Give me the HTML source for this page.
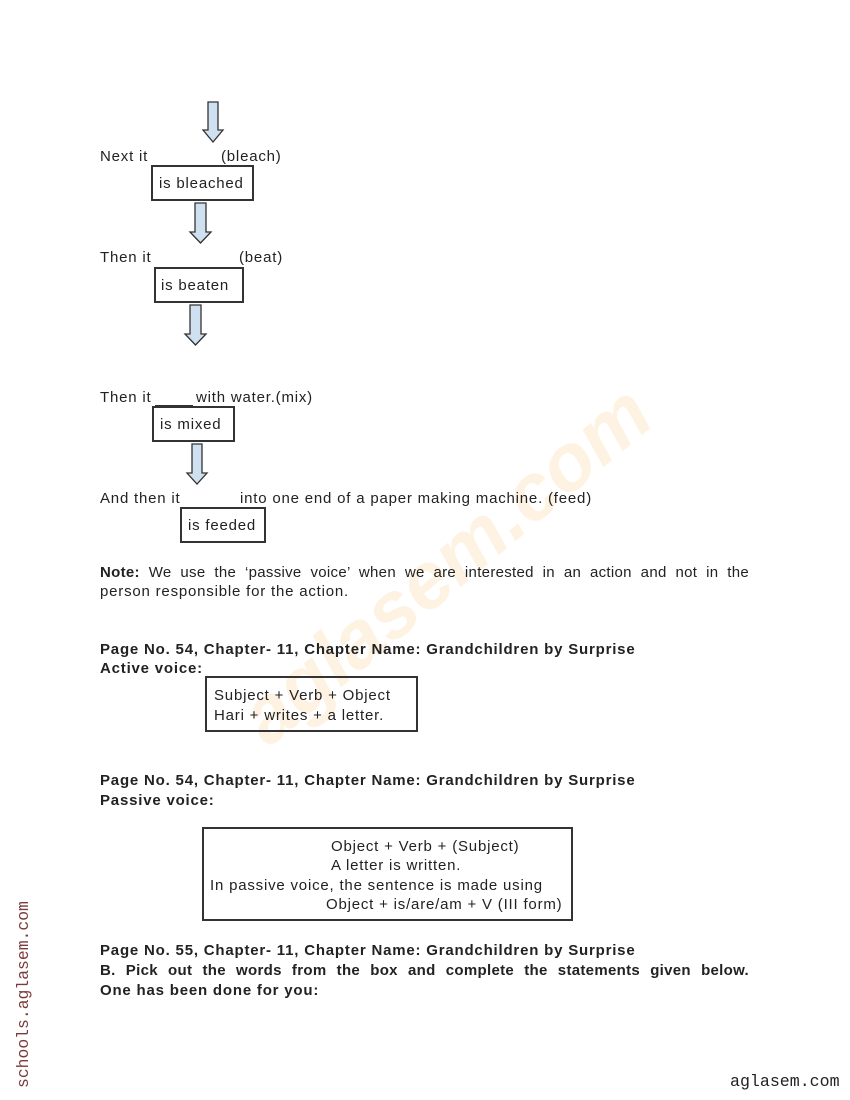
<!DOCTYPE html>
<html><head><style>
body{margin:0;width:850px;height:1100px;position:relative;background:#fff;font-family:"Liberation Sans",sans-serif;font-size:15px;color:#222;overflow:hidden;letter-spacing:0.8px}
.t{position:absolute;white-space:nowrap;line-height:18px}
.b{position:absolute;border:2px solid #333;box-sizing:border-box}
.bt{font-weight:bold}
svg{position:absolute;left:0;top:0}
</style></head><body>
<svg width="850" height="1100">
<text x="450" y="590" text-anchor="middle" transform="rotate(-40 450 570)" font-family="Liberation Sans" font-style="italic" font-weight="bold" font-size="80" fill="#fef3e2" letter-spacing="0">aglasem.com</text>
<g fill="#cfe0f0" stroke="#333" stroke-width="1.3">
<path d="M208,102 H218 V130 H223 L213,142 L203,130 H208 Z"/>
<path d="M195,203 H206 V232 H211 L200.5,243 L190,232 H195 Z"/>
<path d="M190,305 H201 V334 H206 L195.5,345 L185,334 H190 Z"/>
<path d="M192,444 H202 V473 H207 L197,484 L187,473 H192 Z"/>
</g>
</svg>
<div class="t" style="left:100px;top:148px">Next it</div>
<div class="t" style="left:221px;top:148px">(bleach)</div>
<div class="b" style="left:151px;top:165px;width:103px;height:36px"></div>
<div class="t" style="left:159px;top:175px">is bleached</div>
<div class="t" style="left:100px;top:249px">Then it</div>
<div class="t" style="left:239px;top:249px">(beat)</div>
<div class="b" style="left:154px;top:267px;width:90px;height:36px"></div>
<div class="t" style="left:161px;top:277px">is beaten</div>
<div class="t" style="left:100px;top:389px">Then it</div>
<div class="t" style="left:196px;top:389px">with water.(mix)</div>
<div style="position:absolute;left:155px;top:405px;width:38px;border-top:1px solid #333"></div>
<div class="b" style="left:152px;top:406px;width:83px;height:36px"></div>
<div class="t" style="left:160px;top:416px">is mixed</div>
<div class="t" style="left:100px;top:490px">And then it</div>
<div class="t" style="left:240px;top:490px">into one end of a paper making machine. (feed)</div>
<div class="b" style="left:180px;top:507px;width:86px;height:36px"></div>
<div class="t" style="left:188px;top:517px">is feeded</div>
<div class="t" style="left:100px;top:564px;width:649px;white-space:normal;text-align:justify;text-align-last:justify;letter-spacing:0.3px"><b>Note:</b> We use the ‘passive voice’ when we are interested in an action and not in the</div>
<div class="t" style="left:100px;top:583px">person responsible for the action.</div>
<div class="t bt" style="left:100px;top:641px">Page No. 54, Chapter- 11, Chapter Name: Grandchildren by Surprise</div>
<div class="t bt" style="left:100px;top:660px">Active voice:</div>
<div class="b" style="left:205px;top:676px;width:213px;height:56px"></div>
<div class="t" style="left:214px;top:687px">Subject + Verb + Object</div>
<div class="t" style="left:214px;top:707px">Hari + writes + a letter.</div>
<div class="t bt" style="left:100px;top:772px">Page No. 54, Chapter- 11, Chapter Name: Grandchildren by Surprise</div>
<div class="t bt" style="left:100px;top:792px">Passive voice:</div>
<div class="b" style="left:202px;top:827px;width:371px;height:94px"></div>
<div class="t" style="left:331px;top:838px">Object + Verb + (Subject)</div>
<div class="t" style="left:331px;top:857px">A letter is written.</div>
<div class="t" style="left:210px;top:877px">In passive voice, the sentence is made using</div>
<div class="t" style="left:326px;top:896px">Object + is/are/am + V (III form)</div>
<div class="t bt" style="left:100px;top:942px">Page No. 55, Chapter- 11, Chapter Name: Grandchildren by Surprise</div>
<div class="t bt" style="left:100px;top:962px;width:649px;white-space:normal;text-align:justify;text-align-last:justify;letter-spacing:0.3px">B. Pick out the words from the box and complete the statements given below.</div>
<div class="t bt" style="left:100px;top:982px">One has been done for you:</div>
<div class="t" style="left:15px;top:1088px;transform:rotate(-90deg);transform-origin:0 0;font-family:'Liberation Mono',monospace;font-size:16.4px;letter-spacing:0;color:#7a3b3b">schools.aglasem.com</div>
<div class="t" style="left:730px;top:1073px;font-family:'Liberation Mono',monospace;font-size:16.6px;letter-spacing:0;color:#222">aglasem.com</div>
</body></html>
